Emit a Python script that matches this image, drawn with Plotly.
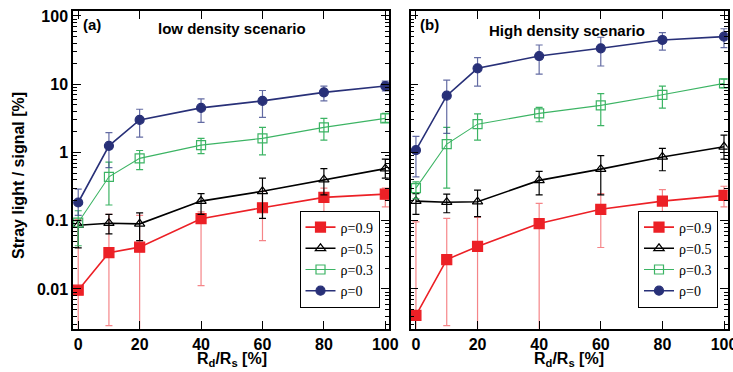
import plotly.graph_objects as go

W, H = 733, 372

# ---------------- data ----------------
x_vals = [0, 10, 20, 40, 60, 80, 100]
labels = ["ρ=0.9", "ρ=0.5", "ρ=0.3", "ρ=0"]

# low density scenario (a)
low_09 = [0.0096, 0.034, 0.041, 0.107, 0.155, 0.22, 0.245]
low_09_hi = [0.105, 0.124, 0.12, 0.135, 0.27, 0.30, 0.30]
low_09_lo = [0, 0.0029, 0, 0.0112, 0.051, 0.132, 0.16]

low_05 = [0.086, 0.092, 0.09, 0.194, 0.27, 0.40, 0.58]
low_05_hi = [0.10, 0.124, 0.13, 0.25, 0.42, 0.58, 0.80]
low_05_lo = [0.04, 0.064, 0.051, 0.124, 0.108, 0.24, 0.42]

low_03 = [0.094, 0.44, 0.82, 1.28, 1.61, 2.33, 3.16]
low_03_hi = [0.14, 0.72, 1.07, 1.61, 2.33, 3.16, 3.74]
low_03_lo = [0.043, 0.17, 0.56, 0.96, 0.92, 1.52, 2.76]

low_0 = [0.185, 1.25, 3.0, 4.5, 5.7, 7.6, 9.4]
low_0_hi = [0.29, 1.95, 4.3, 6.1, 8.1, 9.4, 11.1]
low_0_lo = [0.12, 0.6, 1.68, 2.76, 3.27, 5.7, 8.0]

# high density scenario (b)
high_09 = [0.0041, 0.027, 0.042, 0.091, 0.147, 0.194, 0.235]
high_09_hi = [0.096, 0.108, 0.112, 0.18, 0.25, 0.286, 0.32]
high_09_lo = [0, 0.0029, 0, 0, 0.0405, 0.10, 0.16]

high_05 = [0.194, 0.187, 0.19, 0.39, 0.57, 0.86, 1.21]
high_05_hi = [0.25, 0.245, 0.28, 0.53, 0.90, 1.15, 1.8]
high_05_lo = [0.124, 0.131, 0.115, 0.24, 0.24, 0.54, 0.8]

high_03 = [0.30, 1.33, 2.6, 3.74, 4.9, 7.0, 10.3]
high_03_hi = [0.37, 2.33, 3.69, 4.58, 7.26, 9.4, 11.9]
high_03_lo = [0.21, 0.30, 1.52, 2.82, 2.47, 4.48, 8.9]

high_0 = [1.08, 6.8, 17.1, 25.9, 33.6, 44.5, 49.8]
high_0_hi = [1.72, 11.5, 24.5, 37.6, 48.8, 56.9, 65]
high_0_lo = [0.44, 1.9, 9.4, 14.1, 18.5, 31.7, 34.3]

x_ticks = [0, 20, 40, 60, 80, 100]
y_ticks = [0.01, 0.1, 1, 10, 100]
y_ticktext = ["0.01", "0.1", "1", "10", "100"]

# ---------------- styles ----------------
styles = [
    dict(color="rgb(236,32,38)", ecolor="rgba(236,32,38,0.55)", symbol="square", size=10, lw=1.6),
    dict(color="black", ecolor="black", symbol="triangle-up-open", size=9, lw=1.6),
    dict(color="rgb(60,180,100)", ecolor="rgb(60,180,100)", symbol="square-open", size=9, lw=1.1),
    dict(color="rgb(40,48,120)", ecolor="rgba(60,70,140,0.8)", symbol="circle", size=9, lw=1.6),
]

panels = [
    ("x", "y", "legend", [(low_09, low_09_hi, low_09_lo), (low_05, low_05_hi, low_05_lo),
                          (low_03, low_03_hi, low_03_lo), (low_0, low_0_hi, low_0_lo)]),
    ("x2", "y2", "legend2", [(high_09, high_09_hi, high_09_lo), (high_05, high_05_hi, high_05_lo),
                             (high_03, high_03_hi, high_03_lo), (high_0, high_0_hi, high_0_lo)]),
]

fig = go.Figure()
for xa, ya, lg, series in panels:
    for (vals, hi, lo), st, name in zip(series, styles, labels):
        plus = [h - v for h, v in zip(hi, vals)]
        minus = [v - l for v, l in zip(vals, lo)]
        fig.add_trace(go.Scatter(
            x=x_vals, y=vals, name=name, mode="lines+markers",
            xaxis=xa, yaxis=ya, legend=lg,
            line=dict(color=st["color"], width=st["lw"]),
            marker=dict(symbol=st["symbol"], size=st["size"], color=st["color"],
                        line=dict(color=st["color"], width=1.2)),
            error_y=dict(type="data", symmetric=False, array=plus, arrayminus=minus,
                         color=st["ecolor"], thickness=1.2, width=3.5),
        ))

def px_x(p):
    return p / W

def px_y(p):
    return 1 - p / H

bold = dict(family="Liberation Sans, Arial, sans-serif", size=16, color="black", weight="bold")

axis_common = dict(showline=True, linewidth=1.5, linecolor="black", mirror="allticks",
                   ticks="inside", ticklen=8, tickwidth=1.2, tickcolor="black",
                   showgrid=False, zeroline=False, tickfont=bold, automargin=False,
                   ticklabeloverflow="allow")

xcommon = dict(axis_common, range=[-1.7, 101.2], tickmode="array", tickvals=x_ticks)
ycommon = dict(axis_common, type="log", range=[-2.582, 2.073], tickmode="array",
               tickvals=y_ticks, ticktext=y_ticktext,
               minor=dict(ticks="inside", ticklen=4, tickwidth=1, tickcolor="black",
                          dtick="D1", showgrid=False))

legend_common = dict(bgcolor="white", bordercolor="black", borderwidth=1,
                     font=dict(family="Liberation Serif, Times New Roman, serif", size=14, color="black"),
                     xanchor="right", yanchor="bottom", tracegroupgap=0, itemwidth=30)

fig.update_layout(
    width=W, height=H, margin=dict(l=0, r=0, t=0, b=0, autoexpand=False),
    paper_bgcolor="white", plot_bgcolor="white",
    showlegend=True,
    xaxis=dict(xcommon, domain=[px_x(73), px_x(389)], anchor="y"),
    yaxis=dict(ycommon, domain=[px_y(328.7), px_y(11)], anchor="x"),
    xaxis2=dict(xcommon, domain=[px_x(410.7), px_x(727.7)], anchor="y2"),
    yaxis2=dict(ycommon, domain=[px_y(328.7), px_y(11)], anchor="x2", showticklabels=False),
    legend=dict(legend_common, x=px_x(379.5), y=px_y(307.5)),
    legend2=dict(legend_common, x=px_x(718), y=px_y(307.5)),
)

ann_font = dict(family="Liberation Sans, Arial, sans-serif", size=15, color="black", weight="bold")
annotations = [
    dict(text="(a)", x=px_x(81), y=px_y(25), xanchor="left", yanchor="middle"),
    dict(text="low density scenario", x=px_x(232), y=px_y(28), xanchor="center", yanchor="middle"),
    dict(text="(b)", x=px_x(418), y=px_y(25), xanchor="left", yanchor="middle"),
    dict(text="High density scenario", x=px_x(566.5), y=px_y(30), xanchor="center", yanchor="middle"),
]
for a in annotations:
    fig.add_annotation(xref="paper", yref="paper", showarrow=False, font=ann_font, **a)

for cx in (232, 569):
    fig.add_annotation(xref="paper", yref="paper", showarrow=False,
                       text="R<sub>d</sub>/R<sub>s</sub> [%]", x=px_x(cx), y=px_y(359),
                       xanchor="center", yanchor="middle", font=dict(bold, size=16))

fig.add_annotation(xref="paper", yref="paper", showarrow=False, textangle=-90,
                   text="Stray light / signal [%]", x=px_x(18), y=px_y(176),
                   xanchor="center", yanchor="middle", font=dict(bold, size=16))

fig.write_html("out.html", config={"displayModeBar": False},
               post_script="document.body.style.margin='0';document.body.style.overflow='hidden';")
